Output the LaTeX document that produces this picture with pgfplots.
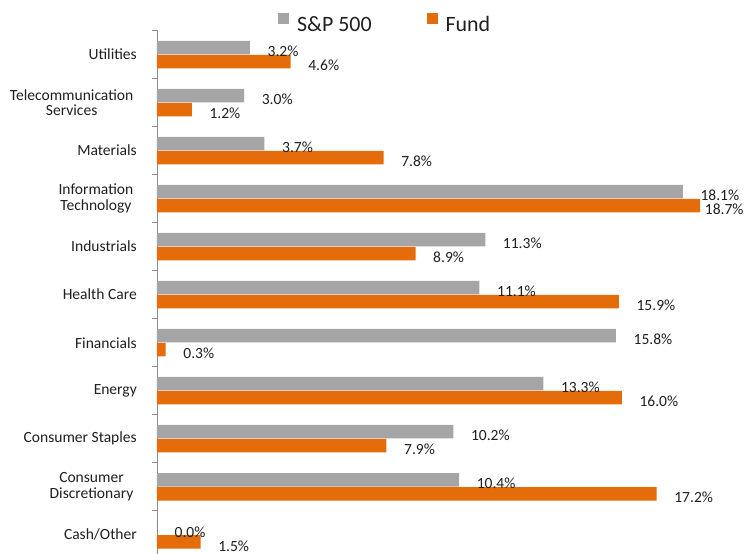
\documentclass[border=0pt]{standalone}
\usepackage{pgfplots}
\pgfplotsset{compat=1.18}
\usepackage{fontspec}
\setmainfont{Carlito}
\usetikzlibrary{calc}
\definecolor{spgray}{HTML}{A5A5A5}
\definecolor{fundorange}{HTML}{E46C0A}
\definecolor{axgray}{HTML}{8C8C8C}
\definecolor{txt}{HTML}{1F1F1F}
\begin{document}
\begin{tikzpicture}
\begin{axis}[
  name=ax,
  scale only axis,
  width=581bp, height=523.5bp,
  xmin=0, xmax=20,
  ymin=-0.4, ymax=10.5,
  clip=false,
  axis x line=none,
  axis y line*=left,
  y axis line style={axgray, line width=0.75bp, -},
  ytick={0,...,10},
  yticklabels={Cash/Other, {Consumer\hspace*{3.5bp}\\Discretionary\hspace*{3.5bp}}, Consumer Staples, Energy, Financials, Health Care, Industrials, {Information\hspace*{3.5bp}\\Technology\hspace*{3.5bp}}, Materials, {Telecommunication\hspace*{3.5bp}\\Services\hspace*{3.5bp}}, Utilities},
  major tick length=0pt,
  minor ytick={0.5,1.5,...,10.5},
  minor tick length=5bp,
  tick align=outside,
  minor tick style={axgray, line width=0.75bp},
  yticklabel style={font=\fontsize{15.6}{15.7}\selectfont, text=txt, align=center, inner sep=0pt, xshift=-20bp},
  legend columns=2,
  legend style={draw=none, fill=none, at={(0.2083,1)}, anchor=west, yshift=7.5bp,
    inner sep=0pt, outer sep=0pt, font=\fontsize{22}{24}\selectfont, text=txt,
    nodes={inner sep=0pt},
    /tikz/every odd column/.style={column sep=8bp},
    /tikz/every even column/.style={column sep=55bp}},
]
\addplot[xbar, fill=spgray, draw=none, bar width=13.5bp, bar shift=7bp,
  point meta=explicit symbolic,
  nodes near coords,
  every node near coord/.append style={anchor=west, inner sep=0pt, xshift=17.5bp, yshift=3bp, font=\fontsize{15.6}{16}\selectfont, text=txt},
  legend image code/.code={\fill[spgray] (0bp,0.7bp) rectangle (11bp,11.7bp);}]
coordinates {
(3.2,10) [3.2\%]
(3.0,9) [3.0\%]
(3.7,8) [3.7\%]
(18.1,7) [18.1\%]
(11.3,6) [11.3\%]
(11.1,5) [11.1\%]
(15.8,4) [15.8\%]
(13.3,3) [13.3\%]
(10.2,2) [10.2\%]
(10.4,1) [10.4\%]
(0.0,0) [0.0\%]
};
\addlegendentry{S\&P 500}
\addplot[xbar, fill=fundorange, draw=none, bar width=13.5bp, bar shift=-7bp,
  point meta=explicit symbolic,
  nodes near coords,
  every node near coord/.append style={anchor=west, inner sep=0pt, xshift=17.5bp, yshift=-11bp, font=\fontsize{15.6}{16}\selectfont, text=txt},
  legend image code/.code={\fill[fundorange] (0bp,0.7bp) rectangle (11bp,11.7bp);}]
coordinates {
(4.6,10) [4.6\%]
(1.2,9) [1.2\%]
(7.8,8) [7.8\%]
(18.7,7) [\hspace*{-13bp}18.7\%]
(8.9,6) [8.9\%]
(15.9,5) [15.9\%]
(0.3,4) [0.3\%]
(16.0,3) [16.0\%]
(7.9,2) [7.9\%]
(17.2,1) [17.2\%]
(1.5,0) [1.5\%]
};
\addlegendentry{Fund}
\end{axis}
\pgfresetboundingbox
\path[use as bounding box] ($(ax.south west)+(-157bp,0)$) rectangle ($(ax.north west)+(587bp,30.5bp)$);
\end{tikzpicture}
\end{document}
